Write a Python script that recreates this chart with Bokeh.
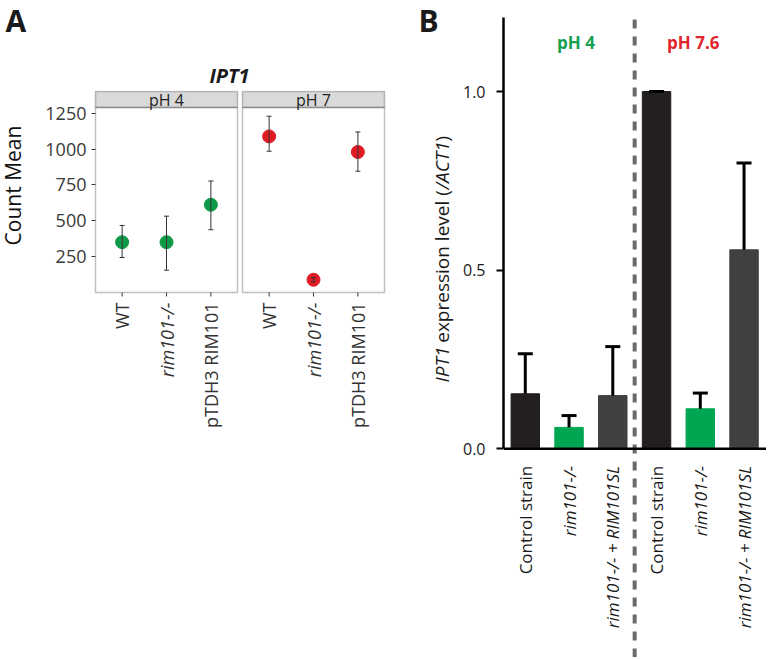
import math
from bokeh.plotting import figure
from bokeh.models import (Range1d, FixedTicker, BoxAnnotation, Label, LabelSet, Span,
                          ColumnDataSource, Whisker, TeeHead, NumeralTickFormatter)
from bokeh.layouts import row, column
from bokeh.embed import file_html
from bokeh.resources import INLINE
from bokeh.core.properties import field, value

FONT = "Open Sans"

# ---------------- Panel A data ----------------
strainsA = ["WT", "rim101-/-", "pTDH3 RIM101"]
stylesA = ["normal", "italic", "normal"]
mean_pH4 = [350, 350, 612]
low_pH4 = [243, 154, 437]
high_pH4 = [467, 532, 778]
mean_pH7 = [1090, 87, 981]
low_pH7 = [986, 72, 846]
high_pH7 = [1231, 102, 1121]
yticksA = [250, 500, 750, 1000, 1250]
facetsA = ["pH 4", "pH 7"]

# ---------------- Panel B data ----------------
strainsB = ["Control strain", "rim101-/-", "rim101-/- + RIM101SL",
            "Control strain", "rim101-/-", "rim101-/- + RIM101SL"]
stylesB = ["normal", "italic", "italic", "normal", "italic", "italic"]
valuesB = [0.154, 0.060, 0.149, 1.0, 0.112, 0.557]
errB = [0.112, 0.033, 0.137, 0.0, 0.044, 0.243]
groupsB = ["pH 4", "pH 7.6"]
yticksB = [0.0, 0.5, 1.0]

barColors = ["#231f20", "#00a651", "#404040"] * 2
GREEN_PT = "#0e9a48"
RED_PT = "#e01b24"
DARK = "#1a1a1a"
BORDER = "#333333"

# Open Sans advance widths (em) for composing the mixed-style axis title
CW = {'I': 0.274, 'P': 0.598, 'T': 0.547, '1': 0.572, ' ': 0.26, 'e': 0.562, 'x': 0.52,
      'p': 0.613, 'r': 0.408, 's': 0.477, 'i': 0.253, 'o': 0.604, 'n': 0.614, 'l': 0.253,
      'v': 0.525, '(': 0.295, '/': 0.368, 'A': 0.633, 'C': 0.635, ')': 0.295}


def text_w(s, size):
    return sum(CW.get(c, 0.55) for c in s) * size


def blank_fig(w, h, x_range=None, lb=0, rb=0):
    p = figure(width=w, height=h, x_range=x_range if x_range is not None else Range1d(0, w),
               y_range=Range1d(0, h), output_backend="svg", toolbar_location=None,
               min_border_left=lb, min_border_right=rb, min_border_top=0, min_border_bottom=0,
               x_axis_location=None, y_axis_location=None)
    p.grid.visible = False
    p.outline_line_color = None
    return p


# ---------------- geometry (pixels) ----------------
TOTAL_H = 657
W_LABA, W_A1, W_A2 = 40, 199, 169
W_LABB, W_B = 47, 311
H_T = 90              # title strip of panel A
H_FAC = 208           # facet frames 90..298
H_ALAB = TOTAL_H - H_T - H_FAC
LB_A1, RB_A1, LB_A2, RB_A2 = 53, 0, 1, 22

# ---------------- Panel A title ----------------
pT = blank_fig(W_LABA + W_A1 + W_A2, H_T)
pT.add_layout(Label(x=5, y=H_T - 20, text="A", text_font=FONT, text_font_size="30px",
                    text_font_style="bold", text_color=DARK, text_baseline="middle"))
pT.add_layout(Label(x=229, y=H_T - 75, text="IPT1", text_font=FONT, text_font_size="20px",
                    text_font_style="bold italic", text_color=DARK, text_align="center",
                    text_baseline="middle"))

# ---------------- Panel A "Count Mean" ----------------
labA = blank_fig(W_LABA, TOTAL_H - H_T)
labA.add_layout(Label(x=12, y=TOTAL_H - 185, text="Count Mean", angle=math.pi / 2,
                      text_font=FONT, text_font_size="21px", text_color="#111111",
                      text_align="center", text_baseline="middle"))

# ---------------- Panel A facets ----------------
PX = 6.995            # count units per pixel
PANEL_BOT = -2
PANEL_TOP = 1292
STRIP_TOP = PANEL_TOP + 16 * PX
yA = Range1d(PANEL_BOT - 6 * PX, STRIP_TOP + 1 * PX)
xA = [1, 2, 3]
XLO, XHI = 0.4, 3.6
PADX = 2 / 44.375


def facet(label, means, lows, highs, color, width, lb, rb, show_y):
    xr = Range1d(XLO - PADX, XHI + PADX)
    p = figure(width=width, height=H_FAC, x_range=xr, y_range=yA,
               output_backend="svg", toolbar_location=None,
               min_border_left=lb, min_border_right=rb, min_border_top=0,
               min_border_bottom=0, x_axis_location=None,
               y_axis_location="left" if show_y else None)
    p.grid.visible = False
    p.outline_line_color = None
    if show_y:
        ay = p.yaxis[0]
        ay.ticker = FixedTicker(ticks=yticksA)
        ay.axis_line_color = None
        ay.major_tick_line_color = BORDER
        ay.major_tick_out = 2
        ay.major_tick_in = 2
        ay.minor_tick_line_color = None
        ay.major_label_text_font = FONT
        ay.major_label_text_font_size = "18px"
        ay.major_label_text_color = "#3a3a3a"
        ay.major_label_standoff = 5
    p.add_layout(BoxAnnotation(left=XLO, right=XHI, bottom=PANEL_TOP, top=STRIP_TOP,
                               fill_color="#d9d9d9", fill_alpha=1, line_color=BORDER,
                               line_width=1.5, level="underlay"))
    p.add_layout(BoxAnnotation(left=XLO, right=XHI, bottom=PANEL_BOT, top=PANEL_TOP,
                               fill_alpha=0, line_color=BORDER, line_width=1.5,
                               level="underlay"))
    p.add_layout(Label(x=sum(xA) / len(xA), y=(PANEL_TOP + STRIP_TOP) / 2, text=label,
                       text_font=FONT, text_font_size="16px", text_color="#222222",
                       text_align="center", text_baseline="middle"))
    src = ColumnDataSource(dict(x=xA, m=means, lo=lows, hi=highs, t=strainsA, s=stylesA,
                                tb=[PANEL_BOT] * len(xA),
                                te=[PANEL_BOT - 4 * PX] * len(xA)))
    # x ticks below the panel
    p.segment(x0="x", y0="tb", x1="x", y1="te", source=src, line_color=BORDER, line_width=1)
    p.scatter("x", "m", source=src, size=13, color=color)
    p.add_layout(Whisker(source=src, base="x", lower="lo", upper="hi",
                         line_color=BORDER, line_width=1, level="overlay",
                         upper_head=TeeHead(size=5, line_color=BORDER, line_width=1),
                         lower_head=TeeHead(size=5, line_color=BORDER, line_width=1)))
    # tick labels in a figure below that shares the x scale
    q = blank_fig(width, H_ALAB, x_range=xr, lb=lb, rb=rb)
    q.add_layout(LabelSet(source=src, x="x", y=H_ALAB - 4, text="t",
                          angle=math.pi / 2, text_align="right", text_baseline="middle",
                          text_font=value(FONT), text_font_size=value("18px"),
                          text_font_style=field("s"), text_color="#333333"))
    return p, q


pA1, qA1 = facet(facetsA[0], mean_pH4, low_pH4, high_pH4, GREEN_PT, W_A1, LB_A1, RB_A1, True)
pA2, qA2 = facet(facetsA[1], mean_pH7, low_pH7, high_pH7, RED_PT, W_A2, LB_A2, RB_A2, False)

# ---------------- Panel B label strip ("B" and y title) ----------------
labB = blank_fig(W_LABB, TOTAL_H)
labB.add_layout(Label(x=10, y=TOTAL_H - 20, text="B", text_font=FONT, text_font_size="30px",
                      text_font_style="bold", text_color=DARK, text_baseline="middle"))
ylab = [("IPT1", "italic"), (" expression level (", "normal"), ("/ACT1", "italic"),
        (")", "normal")]
YL_SIZE = 19
pos = TOTAL_H - 382.0
for txt, sty in ylab:
    k = 0.92 if sty == "italic" else 1.0
    core = txt.strip()
    pos += text_w(txt[:len(txt) - len(txt.lstrip())], YL_SIZE)
    labB.add_layout(Label(x=33, y=pos, text=core, angle=math.pi / 2, text_font=FONT,
                          text_font_size=f"{YL_SIZE}px", text_font_style=sty,
                          text_color=DARK, text_align="left", text_baseline="middle"))
    pos += text_w(core, YL_SIZE) * k

# ---------------- Panel B ----------------
xB = list(range(1, len(valuesB) + 1))
PXB = 357.3           # pixels per unit
Y0_PIX = 448.3        # baseline position
AX_TOP = (Y0_PIX - 17) / PXB
YB_TOP = Y0_PIX / PXB
YB_BOT = -(TOTAL_H - Y0_PIX) / PXB
LB_B = 48
XB_START = 0.502
pB = figure(width=W_B, height=TOTAL_H,
            x_range=Range1d(XB_START, XB_START + (W_B - LB_B) / 43.75),
            y_range=Range1d(YB_BOT, YB_TOP),
            output_backend="svg", toolbar_location=None, x_axis_location=None,
            min_border_left=LB_B, min_border_right=0, min_border_top=0, min_border_bottom=0)
pB.grid.visible = False
pB.outline_line_color = None
ay = pB.yaxis[0]
ay.bounds = (0, AX_TOP)
ay.ticker = FixedTicker(ticks=yticksB)
ay.formatter = NumeralTickFormatter(format="0.0")
ay.axis_line_width = 2.5
ay.axis_line_color = "black"
ay.major_tick_out = 7
ay.major_tick_in = 0
ay.major_tick_line_width = 2
ay.major_tick_line_color = "black"
ay.minor_tick_line_color = None
ay.major_label_text_font = FONT
ay.major_label_text_font_size = "16px"
ay.major_label_text_color = DARK
ay.major_label_standoff = 11

n_group = len(valuesB) // 2
sep = n_group + 0.5
pB.segment(x0=[sep], y0=[YB_BOT], x1=[sep], y1=[AX_TOP], line_color="#6a6a6a",
           line_width=4, line_dash="9 8")
pB.add_layout(Span(location=0, dimension="width", line_color="black", line_width=2.5))

srcB = ColumnDataSource(dict(x=xB, v=valuesB, hi=[v + e for v, e in zip(valuesB, errB)],
                             c=barColors, t=strainsB, s=stylesB))
pB.vbar(x="x", top="v", width=0.65, color="c", source=srcB)
pB.add_layout(Whisker(source=srcB, base="x", lower="v", upper="hi", line_color="black",
                      line_width=3, level="overlay", lower_head=None,
                      upper_head=TeeHead(size=15, line_color="black", line_width=3)))

grp_centers = [(1 + n_group) / 2, n_group + (1 + n_group) / 2]
pB.add_layout(Label(x=grp_centers[0], y=1.137, x_offset=7, text=groupsB[0],
                    text_font=FONT, text_font_size="17px", text_font_style="bold",
                    text_color="#15a050", text_align="center", text_baseline="middle"))
pB.add_layout(Label(x=grp_centers[1], y=1.137, x_offset=-7, text=groupsB[1],
                    text_font=FONT, text_font_size="17px", text_font_style="bold",
                    text_color="#e0252d", text_align="center", text_baseline="middle"))
pB.add_layout(LabelSet(source=srcB, x="x", y=0, y_offset=-17, text="t",
                       angle=math.pi / 2, text_align="right", text_baseline="middle",
                       text_font=value(FONT), text_font_size=value("17px"),
                       text_font_style=field("s"), text_color=DARK))

panelA = column(pT, row(labA, column(row(pA1, pA2), row(qA1, qA2))))
layout = row(panelA, labB, pB)
open("out.html", "w").write(file_html(layout, INLINE))
